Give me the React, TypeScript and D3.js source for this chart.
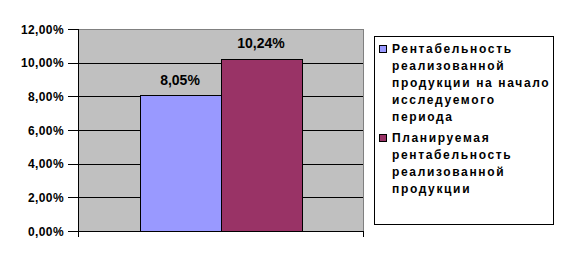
import React from "react";
import * as d3 from "d3";

const categories = ["period"];
const seriesNames = [
  ["Рентабельность", "реализованной", "продукции на начало", "исследуемого", "периода"],
  ["Планируемая", "рентабельность", "реализованной", "продукции"],
];
const seriesValues = [0.0805, 0.1024];
const seriesColors = ["#9999FF", "#993366"];
const valueLabels = ["8,05%", "10,24%"];
const yTicks = [0, 0.02, 0.04, 0.06, 0.08, 0.1, 0.12];
const yTickLabels = ["0,00%", "2,00%", "4,00%", "6,00%", "8,00%", "10,00%", "12,00%"];

const W = 564;
const H = 265;
const plot = { left: 78, right: 363, top: 29, bottom: 231 };
const font = "Arial, 'Liberation Sans', sans-serif";

export default function App() {
  const y = d3.scaleLinear().domain([0, 0.12]).range([plot.bottom, plot.top]);
  const xOuter = d3
    .scaleBand<string>()
    .domain(categories)
    .range([plot.left, plot.right])
    .paddingInner(0)
    .paddingOuter(0.38);
  const xInner = d3
    .scaleBand<number>()
    .domain(seriesValues.map((_, i) => i))
    .range([0, xOuter.bandwidth()])
    .padding(0);

  const legend = { x: 374, y: 36, w: 179, h: 188 };
  const lineH = 17.1;
  let lineIdx = 0;
  const legendItems = seriesNames.map((lines, si) => {
    const start = lineIdx;
    lineIdx += lines.length;
    return { lines, start, si };
  });

  return (
    <div style={{ position: "fixed", left: 0, top: 0 }}>
      <svg width={W} height={H} style={{ display: "block", background: "#fff" }}>
        <rect x={plot.left} y={plot.top} width={plot.right - plot.left} height={plot.bottom - plot.top} fill="#C0C0C0" />
        {yTicks
          .filter((t) => t > 0 && t < 0.12)
          .map((t) => (
            <line key={t} x1={plot.left} x2={plot.right} y1={Math.round(y(t)) + 0.5} y2={Math.round(y(t)) + 0.5} stroke="#000" strokeWidth={1} />
          ))}
        <line x1={plot.left} x2={plot.right + 0.5} y1={plot.top + 0.5} y2={plot.top + 0.5} stroke="#808080" />
        <line x1={plot.right + 0.5} x2={plot.right + 0.5} y1={plot.top} y2={plot.bottom} stroke="#808080" />
        {seriesValues.map((v, i) => {
          const x0 = (xOuter(categories[0]) ?? 0) + (xInner(i) ?? 0);
          const bw = xInner.bandwidth();
          const yt = y(v);
          return (
            <g key={i}>
              <rect x={Math.round(x0) + 0.5} y={Math.round(yt) + 0.5} width={Math.round(bw)} height={Math.round(plot.bottom - yt)} fill={seriesColors[i]} stroke="#000" strokeWidth={1} />
              <text x={x0 + bw / 2} y={yt - 10.5} textAnchor="middle" fontFamily={font} fontWeight="bold" fontSize={14}>
                {valueLabels[i]}
              </text>
            </g>
          );
        })}
        {/* axes */}
        <line x1={plot.left + 0.5} x2={plot.left + 0.5} y1={plot.top} y2={plot.bottom + 6} stroke="#000" />
        <line x1={plot.left} x2={plot.right + 1} y1={plot.bottom + 0.5} y2={plot.bottom + 0.5} stroke="#000" />
        <line x1={plot.right + 0.5} x2={plot.right + 0.5} y1={plot.bottom} y2={plot.bottom + 6} stroke="#000" />
        {yTicks.map((t, i) => (
          <g key={t}>
            <line x1={plot.left - 10} x2={plot.left} y1={Math.round(y(t)) + 0.5} y2={Math.round(y(t)) + 0.5} stroke="#000" />
            <text x={64} y={y(t) + 4.8} textAnchor="end" fontFamily={font} fontWeight="bold" fontSize={12} letterSpacing={0.4}>
              {yTickLabels[i]}
            </text>
          </g>
        ))}
        {/* legend */}
        <rect x={legend.x + 0.5} y={legend.y + 0.5} width={legend.w} height={legend.h} fill="#fff" stroke="#000" />
        {legendItems.map(({ lines, start, si }) => {
          const gap = si * 3;
          const base0 = 53 + start * lineH + gap;
          return (
            <g key={si}>
              <rect x={379.5} y={Math.round(base0 - 8) + 0.5} width={7} height={7} fill={seriesColors[si]} stroke="#000" />
              {lines.map((l, li) => (
                <text key={li} x={392} y={base0 + li * lineH} fontFamily={font} fontWeight="bold" fontSize={12} letterSpacing={1.65}>
                  {l}
                </text>
              ))}
            </g>
          );
        })}
      </svg>
    </div>
  );
}
